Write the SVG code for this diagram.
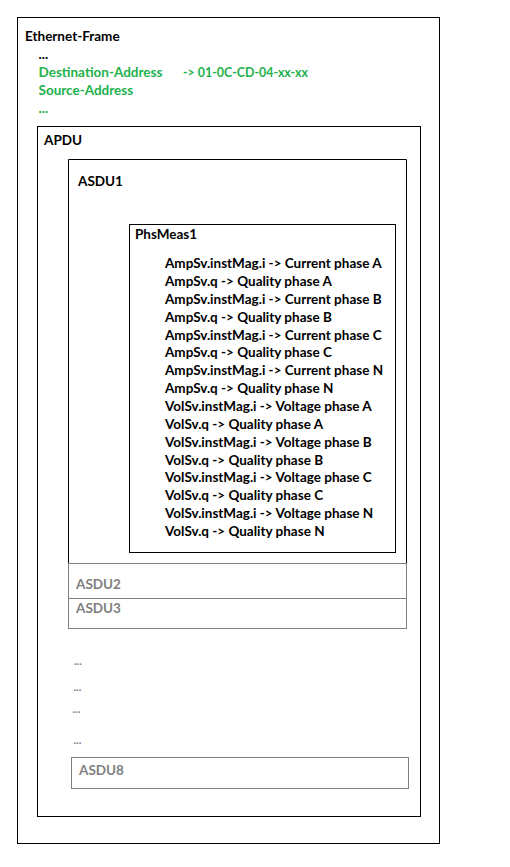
<svg xmlns="http://www.w3.org/2000/svg" width="510" height="867" viewBox="0 0 510 867">
<style>
text{font-family:Lato,"Open Sans","Liberation Sans",sans-serif;font-weight:bold;font-size:13.5px;fill:#000}
.g{fill:#22b14c}
.gr{fill:#7f7f7f}
.b{fill:none;stroke:#000;stroke-width:1}
.gb{fill:none;stroke:#808080;stroke-width:1}
.d{font-size:11px}
</style>
<rect width="510" height="867" fill="#fff"/>
<g id="ethernet-frame">
<rect class="b" x="17.5" y="17.5" width="422" height="826"/>
<text x="25" y="41">Ethernet-Frame</text>
<text x="38.5" y="59">...</text>
<text class="g" x="38.5" y="77">Destination-Address</text>
<text class="g" x="183" y="77" textLength="125" lengthAdjust="spacingAndGlyphs">-&gt; 01-0C-CD-04-xx-xx</text>
<text class="g" x="38.5" y="95">Source-Address</text>
<text class="g" x="38.5" y="113">...</text>
</g>
<g id="apdu">
<rect class="b" x="37.5" y="126.5" width="383" height="690"/>
<text x="44" y="145">APDU</text>
</g>
<g id="asdu1">
<path class="b" d="M68.5,563.5 V159.5 H406.5 V563.5"/>
<text x="78" y="186">ASDU1</text>
</g>
<g id="phsmeas1">
<rect class="b" x="129.5" y="224.5" width="266" height="328"/>
<text x="135" y="239">PhsMeas1</text>
<text x="165" y="268">AmpSv.instMag.i -&gt; Current phase A</text>
<text x="165" y="285.9">AmpSv.q -&gt; Quality phase A</text>
<text x="165" y="303.7">AmpSv.instMag.i -&gt; Current phase B</text>
<text x="165" y="321.6">AmpSv.q -&gt; Quality phase B</text>
<text x="165" y="339.5">AmpSv.instMag.i -&gt; Current phase C</text>
<text x="165" y="357.4">AmpSv.q -&gt; Quality phase C</text>
<text x="165" y="375.2">AmpSv.instMag.i -&gt; Current phase N</text>
<text x="165" y="393.1">AmpSv.q -&gt; Quality phase N</text>
<text x="165" y="411">VolSv.instMag.i -&gt; Voltage phase A</text>
<text x="165" y="428.8">VolSv.q -&gt; Quality phase A</text>
<text x="165" y="446.7">VolSv.instMag.i -&gt; Voltage phase B</text>
<text x="165" y="464.6">VolSv.q -&gt; Quality phase B</text>
<text x="165" y="482.4">VolSv.instMag.i -&gt; Voltage phase C</text>
<text x="165" y="500.3">VolSv.q -&gt; Quality phase C</text>
<text x="165" y="518.2">VolSv.instMag.i -&gt; Voltage phase N</text>
<text x="165" y="536">VolSv.q -&gt; Quality phase N</text>
</g>
<g id="asdu2">
<rect class="gb" x="68.5" y="563.5" width="338" height="35"/>
<text class="gr" x="76" y="589">ASDU2</text>
</g>
<g id="asdu3">
<rect class="gb" x="68.5" y="598.5" width="338" height="30"/>
<text class="gr" x="76" y="613">ASDU3</text>
</g>
<g id="ellipses">
<text class="gr d" x="74" y="665">...</text>
<text class="gr d" x="73.5" y="691">...</text>
<text class="gr d" x="72.5" y="713">...</text>
<text class="gr d" x="73.5" y="744">...</text>
</g>
<g id="asdu8">
<rect class="gb" x="71.5" y="757.5" width="337" height="31"/>
<text class="gr" x="79" y="775">ASDU8</text>
</g>
<g id="connectors"/>
</svg>
